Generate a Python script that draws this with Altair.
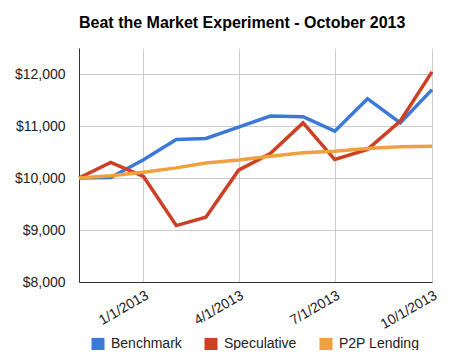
import altair as alt
import pandas as pd

dates = ["2012/11/01", "2012/12/01", "2013/01/01", "2013/02/01", "2013/03/01", "2013/04/01",
         "2013/05/01", "2013/06/01", "2013/07/01", "2013/08/01", "2013/09/01", "2013/10/01"]
benchmark = [10000, 10010, 10350, 10740, 10760, 10980, 11190, 11180, 10900, 11525, 11060, 11700]
speculative = [10000, 10300, 10030, 9085, 9245, 10150, 10470, 11060, 10355, 10550, 11095, 12040]
p2p = [10000, 10045, 10110, 10195, 10290, 10345, 10420, 10485, 10515, 10565, 10600, 10612]
series = ["Benchmark", "Speculative", "P2P Lending"]
colors = ["#3c78d8", "#cc4125", "#f0a03e"]

rows = []
for name, vals in zip(series, [benchmark, speculative, p2p]):
    for d, v in zip(dates, vals):
        rows.append({"date": d, "value": v, "series": name})
df = pd.DataFrame(rows)

font = "Liberation Sans"

chart = alt.Chart(df).mark_line(strokeWidth=3.5, strokeJoin="miter").encode(
    x=alt.X("date:T",
            scale=alt.Scale(domain=[alt.DateTime(year=2012, month=11, date=1),
                                    alt.DateTime(year=2013, month=10, date=1)]),
            axis=alt.Axis(title=None, format="%-m/%-d/%Y",
                          values=[alt.DateTime(year=2013, month=1, date=1),
                                  alt.DateTime(year=2013, month=4, date=1),
                                  alt.DateTime(year=2013, month=7, date=1),
                                  alt.DateTime(year=2013, month=10, date=1)],
                          labelAngle=330, labelAlign="right", labelBaseline="top",
                          labelPadding=6, labelOffset=0, ticks=False,
                          domainColor="#333333", gridColor="#cccccc",
                          labelFont=font, labelFontSize=14, labelColor="#222222")),
    y=alt.Y("value:Q",
            scale=alt.Scale(domain=[8000, 12500], nice=False, zero=False),
            axis=alt.Axis(title=None, values=[8000, 9000, 10000, 11000, 12000],
                          format="$,.0f", ticks=False, labelPadding=14,
                          domainColor="#333333", gridColor="#cccccc",
                          labelFont=font, labelFontSize=14, labelColor="#222222")),
    color=alt.Color("series:N", sort=series,
                    scale=alt.Scale(domain=series, range=colors),
                    legend=alt.Legend(title=None, orient="none", direction="horizontal",
                                      legendX=12, legendY=289,
                                      symbolType="square", symbolSize=42.25,
                                      symbolStrokeWidth=6.5, symbolOpacity=1,
                                      columnPadding=12, labelOffset=6,
                                      labelFont=font, labelFontSize=14,
                                      labelColor="#222222")),
    order=alt.Order("series:N"),
).properties(
    width=353, height=234,
    title=alt.TitleParams("Beat the Market Experiment - October 2013", anchor="start",
                          frame="group",
                          font=font, fontSize=16, fontWeight="bold", color="#000000",
                          offset=17),
    autosize=alt.AutoSizeParams(type="none"),
    padding={"left": 71, "top": 40, "right": 27, "bottom": 68},
).configure_view(stroke=None)

chart.save("out.html", embed_options={"renderer": "svg", "actions": False})
